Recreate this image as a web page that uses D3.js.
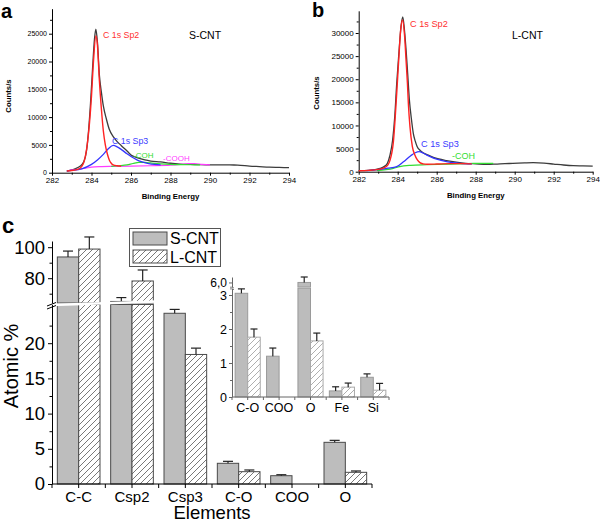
<!DOCTYPE html>
<html><head><meta charset="utf-8">
<script src="https://cdn.jsdelivr.net/npm/d3@7"></script>
<style>body{margin:0;background:#fff} svg{display:block} text{font-family:"Liberation Sans",Arial,sans-serif}</style>
</head><body><svg id="c" width="600" height="523"></svg>
<script>
// ---------- Data: panel a (S-CNT XPS C1s) [binding energy, counts/s] ----------
const sTotal = [[282.75,300],[283.0,500],[283.2,750],[283.4,1100],[283.6,1900],[283.75,4000],[283.85,7500],[283.95,12500],[284.05,18500],[284.15,24000],[284.22,25800],[284.3,23500],[284.4,17500],[284.5,14500],[284.6,12000],[284.75,9700],[284.9,7800],[285.1,6500],[285.3,5600],[285.5,4900],[285.8,3900],[286.0,3200],[286.3,2700],[286.7,2300],[287.0,2100],[287.5,1950],[288.0,1700],[288.5,1560],[289.0,1500],[289.5,1450],[290.0,1420],[290.5,1400],[291.0,1390],[291.4,1380],[292.0,1200],[292.5,1100],[293.0,1000],[293.5,950],[294.0,900]];
const sSp2 = [[282.75,300],[283.0,400],[283.3,600],[283.5,1100],[283.65,2300],[283.8,5500],[283.9,9000],[284.0,13800],[284.1,20000],[284.22,24600],[284.3,23000],[284.4,16500],[284.5,11500],[284.6,7500],[284.7,5000],[284.8,3400],[284.9,2300],[285.0,1700],[285.1,1400],[285.3,1250],[285.5,1200]];
const sSp3 = [[282.75,300],[283.0,400],[283.5,700],[284.0,1500],[284.3,2300],[284.6,3300],[284.85,4300],[285.1,4900],[285.3,4650],[285.5,4200],[285.8,3400],[286.0,2900],[286.3,2300],[286.6,1900],[286.9,1650],[287.2,1500],[287.5,1400]];
const sCOH = [[285.0,1150],[285.4,1250],[285.8,1400],[286.1,1650],[286.4,1850],[286.7,1850],[287.0,1750],[287.5,1600],[288.0,1500],[288.5,1450],[289.0,1430],[289.5,1400]];
const sCOOH = [[282.9,450],[283.3,600],[283.7,800],[284.0,1000],[284.5,1100],[285.0,1150],[286.0,1200],[287.0,1250],[288.0,1350],[288.5,1480],[288.9,1620],[289.2,1620],[289.6,1500],[290.0,1400]];

// ---------- Data: panel b (L-CNT XPS C1s) ----------
const lTotal = [[282.0,220],[282.5,300],[283.1,735],[283.3,1100],[283.47,1800],[283.6,3500],[283.74,6860],[283.85,12000],[283.95,19100],[284.05,25000],[284.17,31400],[284.26,33500],[284.35,30500],[284.43,26300],[284.5,22000],[284.6,15500],[284.7,11500],[284.8,8300],[284.9,6600],[285.0,5400],[285.15,4600],[285.3,4100],[285.5,3700],[285.83,3100],[286.1,2750],[286.5,2400],[287.0,2050],[287.5,1800],[288.0,1700],[288.56,1600],[289.0,1650],[289.5,1750],[289.9,1800],[290.5,1900],[290.95,1950],[291.5,1850],[292.0,1650],[292.5,1450],[293.0,1300],[293.5,1250],[294.0,1200]];
const lSp2 = [[282.0,200],[282.5,280],[283.0,500],[283.3,850],[283.5,1500],[283.6,2400],[283.78,6500],[283.95,17000],[284.05,24000],[284.15,30500],[284.25,32800],[284.35,29500],[284.43,24000],[284.5,19000],[284.55,14500],[284.63,9700],[284.75,5500],[284.88,3600],[285.0,2600],[285.14,1950],[285.3,1700],[285.5,1600],[286.0,1650],[286.7,1750],[287.3,1750],[287.8,1700]];
const lSp3 = [[282.4,220],[283.1,500],[283.5,750],[283.95,1100],[284.3,2160],[284.67,3460],[284.9,4100],[285.1,4330],[285.3,4050],[285.5,3600],[285.75,3100],[286.0,2700],[286.5,2160],[287.2,1800],[287.8,1700]];
const lCOH = [[282.92,220],[283.4,450],[283.78,735],[284.1,1100],[284.67,1370],[285.5,1500],[286.7,1650],[287.9,1780],[288.9,1800]];

const energyTicks = [282,284,286,288,290,292,294];
const energyMinor = [283,285,287,289,291,293];
const countTicksA = [0,5000,10000,15000,20000,25000];
const countMinorA = [2500,7500,12500,17500,22500,27500];
const countTicksB = [0,5000,10000,15000,20000,25000,30000];
const countMinorB = [2500,7500,12500,17500,22500,27500,32500];

// ---------- Data: panel c (atomic %) ----------
const categories = ["C-C","Csp2","Csp3","C-O","COO","O"];
const series = ["S-CNT","L-CNT"];
const sValues = [93.7, 65.0, 24.25, 2.94, 1.18, 5.92];
const sErrors = [3.8, 2.5, 0.55, 0.28, 0.14, 0.28];
const lValues = [98.8, 78.2, 18.4, 1.75, null, 1.66];
const lErrors = [7.8, 7.1, 0.9, 0.24, null, 0.19];
const lowTicks = [0,5,10,15,20];
const lowMinor = [2.5,7.5,12.5,17.5,22.5];
const highTicks = [80,100];
const highMinor = [70,90];

const insetCategories = ["C-O","COO","O","Fe","Si"];
const insetS = [3.05, 1.2, 6.0, 0.18, 0.58];
const insetSErr = [0.13, 0.24, 0.3, 0.12, 0.1];
const insetL = [1.76, null, 1.65, 0.29, 0.2];
const insetLErr = [0.24, null, 0.23, 0.12, 0.2];
const insetTicks = [0,1,2,3];
const insetMinor = [0.5,1.5,2.5];

// ---------- Drawing ----------
const svg = d3.select('#c');
svg.append('rect').attr('width',600).attr('height',523).attr('fill','#fff');
const defs = svg.append('defs');
function hatch(id, color, w){
  const p = defs.append('pattern').attr('id',id).attr('patternUnits','userSpaceOnUse').attr('width',6).attr('height',6);
  p.append('rect').attr('width',6).attr('height',6).attr('fill','#fff');
  p.append('path').attr('d','M0,6 L6,0 M-1,1 L1,-1 M5,7 L7,5').attr('stroke',color).attr('stroke-width',w);
}
hatch('hatchMain','#6a6a6a',0.9);
hatch('hatchInset','#9a9a9a',0.8);

function styleAxis(g, fs){
  g.selectAll('path.domain').attr('stroke','#000').attr('stroke-width',1);
  g.selectAll('.tick line').attr('stroke','#000');
  g.selectAll('text').attr('font-family','"Liberation Sans",Arial,sans-serif').attr('font-size',fs).attr('fill','#000');
}

function spectrum(cfg){
  const g = svg.append('g');
  const x = d3.scaleLinear().domain([282,294]).range([cfg.x0,cfg.x1]);
  const y = d3.scaleLinear().domain([0,cfg.refVal]).range([cfg.y0,cfg.refY]);
  const yTop = y(cfg.ymax);
  const gx = g.append('g').attr('transform',`translate(0,${cfg.y0})`)
    .call(d3.axisBottom(x).tickValues(energyTicks).tickSize(3).tickSizeOuter(0).tickPadding(2).tickFormat(d3.format('d')));
  styleAxis(gx, cfg.fsx);
  const gxm = g.append('g').attr('transform',`translate(0,${cfg.y0})`)
    .call(d3.axisBottom(x).tickValues(energyMinor).tickSize(2).tickFormat(''));
  gxm.select('path.domain').remove(); styleAxis(gxm, cfg.fsx);
  const yy = y.copy().domain([0,cfg.ymax]).range([cfg.y0,yTop]);
  const gy = g.append('g').attr('transform',`translate(${cfg.x0},0)`)
    .call(d3.axisLeft(yy).tickValues(cfg.ticks).tickSize(3).tickSizeOuter(0).tickPadding(2).tickFormat(d3.format('d')));
  styleAxis(gy, cfg.fsy);
  const gym = g.append('g').attr('transform',`translate(${cfg.x0},0)`)
    .call(d3.axisLeft(yy).tickValues(cfg.minor).tickSize(2).tickFormat(''));
  gym.select('path.domain').remove(); styleAxis(gym, cfg.fsy);

  const line = d3.line().x(d=>x(d[0])).y(d=>y(d[1])).curve(d3.curveMonotoneX);
  cfg.lines.forEach(l=>{
    g.append('path').attr('d',line(l.data)).attr('fill','none').attr('stroke',l.color).attr('stroke-width',l.w).attr('stroke-linejoin','round');
  });
  cfg.labels.forEach(t=>{
    g.append('text').attr('x',t.x).attr('y',t.y).attr('fill',t.color).attr('font-size',t.fs).text(t.text);
  });
  g.append('text').attr('x',(cfg.x0+cfg.x1)/2).attr('y',cfg.y0+26).attr('text-anchor','middle')
    .attr('font-weight','bold').attr('font-size',7.8).text('Binding Energy');
  g.append('text').attr('transform',`translate(${cfg.ylabX},${cfg.ylabY}) rotate(-90)`).attr('text-anchor','middle')
    .attr('font-weight','bold').attr('font-size',7.8).text('Counts/s');
  g.append('text').attr('x',cfg.letterX).attr('y',cfg.letterY).attr('font-weight','bold').attr('font-size',20).text(cfg.letter);
}

spectrum({x0:52,x1:289,y0:172.7,refVal:25000,refY:33.7,ymax:29500,ticks:countTicksA,minor:countMinorA,fsx:8,fsy:7,
  ylabX:11,ylabY:96,letter:'a',letterX:1,letterY:18,
  lines:[{data:sTotal,color:'#3c3c3c',w:1.3},{data:sCOOH,color:'#ff3cff',w:1.2},{data:sCOH,color:'#33dd33',w:1.2},
         {data:sSp3,color:'#3434ff',w:1.3},{data:sSp2,color:'#ff2222',w:1.4}],
  labels:[{x:103,y:38,text:'C 1s Sp2',color:'#ff3030',fs:8.8},{x:112,y:144,text:'C 1s Sp3',color:'#3c3cff',fs:8.8},
          {x:133,y:157.5,text:'-COH',color:'#33dd33',fs:8},{x:163,y:161,text:'-COOH',color:'#ff40ff',fs:8},
          {x:189,y:39,text:'S-CNT',color:'#000',fs:10.5}]
});
spectrum({x0:358.7,x1:592.7,y0:171.7,refVal:30000,refY:33,ymax:34800,ticks:countTicksB,minor:countMinorB,fsx:8,fsy:8,
  ylabX:319,ylabY:93,letter:'b',letterX:312,letterY:17,
  lines:[{data:lTotal,color:'#3c3c3c',w:1.3},{data:lCOH,color:'#33dd33',w:1.2},
         {data:lSp3,color:'#3434ff',w:1.3},{data:lSp2,color:'#ff2222',w:1.4}],
  labels:[{x:410,y:27,text:'C 1s Sp2',color:'#ff3030',fs:9.2},{x:421,y:147,text:'C 1s Sp3',color:'#3c3cff',fs:9.2},
          {x:452,y:159,text:'-COH',color:'#33dd33',fs:9},
          {x:512,y:39,text:'L-CNT',color:'#000',fs:10.5}]
});

// ---------- Panel c main ----------
const gc = svg.append('g');
const x0 = d3.scaleBand().domain(categories).range([52,372]).paddingInner(0.2).paddingOuter(0.1);
const x1 = d3.scaleBand().domain(series).range([0,x0.bandwidth()]);
const LOWMAX = 25.5, HIGHMIN = 64;
const yLow = d3.scaleLinear().domain([0,LOWMAX]).range([484,484-LOWMAX*7.04]);
const yHigh = d3.scaleLinear().domain([HIGHMIN,104]).range([303,241]);
const yMain = v => v < 45 ? yLow(v) : yHigh(v);

function drawBar(g, xs, w, v, e, fill, stroke, sw, ylow, yhigh, lowMax, split, yf, cap){
  if(v==null) return;
  if(v < split){
    g.append('rect').attr('x',xs).attr('y',ylow(v)).attr('width',w).attr('height',ylow(0)-ylow(v))
      .attr('fill',fill).attr('stroke',stroke).attr('stroke-width',sw);
  } else {
    g.append('rect').attr('x',xs).attr('y',ylow(lowMax)).attr('width',w).attr('height',ylow(0)-ylow(lowMax))
      .attr('fill',fill).attr('stroke',stroke).attr('stroke-width',sw);
    g.append('rect').attr('x',xs).attr('y',yhigh(v)).attr('width',w).attr('height',yhigh.range()[0]-yhigh(v))
      .attr('fill',fill).attr('stroke',stroke).attr('stroke-width',sw);
  }
  if(e!=null){
    const cx = xs + w/2, yt = yf(v), ye = yf(v+e);
    g.append('line').attr('x1',cx).attr('x2',cx).attr('y1',yt).attr('y2',ye).attr('stroke','#222').attr('stroke-width',1.2);
    g.append('line').attr('x1',cx-cap).attr('x2',cx+cap).attr('y1',ye).attr('y2',ye).attr('stroke','#222').attr('stroke-width',1.2);
  }
}
categories.forEach((c,i)=>{
  drawBar(gc, x0(c)+x1('S-CNT'), x1.bandwidth(), sValues[i], sErrors[i], '#bdbdbd', '#4a4a4a', 1, yLow, yHigh, LOWMAX, 45, yMain, 5);
  drawBar(gc, x0(c)+x1('L-CNT'), x1.bandwidth(), lValues[i], lErrors[i], 'url(#hatchMain)', '#4a4a4a', 1, yLow, yHigh, LOWMAX, 45, yMain, 5);
});
gc.append('polygon').attr('points','44,306.5 165,302.5 165,300 44,304').attr('fill','#fff');

const gyl = gc.append('g').attr('transform','translate(52,0)')
  .call(d3.axisLeft(yLow).tickValues(lowTicks).tickSize(4).tickSizeOuter(0).tickPadding(3).tickFormat(d3.format('d')));
styleAxis(gyl, 18.5);
const gylm = gc.append('g').attr('transform','translate(52,0)').call(d3.axisLeft(yLow).tickValues(lowMinor).tickSize(2.5).tickFormat(''));
gylm.select('path.domain').remove(); styleAxis(gylm,18);
const gyh = gc.append('g').attr('transform','translate(52,0)')
  .call(d3.axisLeft(yHigh).tickValues(highTicks).tickSize(4).tickSizeOuter(0).tickPadding(3).tickFormat(d3.format('d')));
styleAxis(gyh, 18.5);
const gyhm = gc.append('g').attr('transform','translate(52,0)').call(d3.axisLeft(yHigh).tickValues(highMinor).tickSize(2.5).tickFormat(''));
gyhm.select('path.domain').remove(); styleAxis(gyhm,18);
gc.append('line').attr('x1',47).attr('y1',306).attr('x2',56).attr('y2',302.5).attr('stroke','#000');
gc.append('line').attr('x1',47).attr('y1',309).attr('x2',56).attr('y2',305.5).attr('stroke','#000');

const xTickPos = d3.range(0,13).map(k=>52+k*(320/12));
const gxa = gc.append('g');
gxa.append('line').attr('x1',52).attr('x2',372).attr('y1',484).attr('y2',484).attr('stroke','#000');
gxa.selectAll('line.t').data(xTickPos).enter().append('line').attr('class','t')
  .attr('x1',d=>d).attr('x2',d=>d).attr('y1',484).attr('y2',488).attr('stroke','#000');
gc.selectAll('text.cat').data(categories).enter().append('text').attr('class','cat')
  .attr('x',d=>x0(d)+x0.bandwidth()/2).attr('y',502).attr('text-anchor','middle').attr('font-size',15).text(d=>d);
gc.append('text').attr('x',212).attr('y',519).attr('text-anchor','middle').attr('font-size',18.5).text('Elements');
gc.append('text').attr('transform','translate(18,366) rotate(-90)').attr('text-anchor','middle').attr('font-size',20).text('Atomic %');
svg.append('text').attr('x',2).attr('y',233).attr('font-weight','bold').attr('font-size',22).text('c');

const lg = gc.append('g');
lg.append('rect').attr('x',129.5).attr('y',228.5).attr('width',91).attr('height',38).attr('fill','#fff').attr('stroke','#555');
lg.append('rect').attr('x',133).attr('y',232).attr('width',34).attr('height',13).attr('fill','#bdbdbd').attr('stroke','#4a4a4a');
lg.append('rect').attr('x',133).attr('y',250).attr('width',34).attr('height',13).attr('fill','url(#hatchMain)').attr('stroke','#4a4a4a');
lg.append('text').attr('x',170).attr('y',244).attr('font-size',16).text(series[0]);
lg.append('text').attr('x',170).attr('y',263).attr('font-size',16).text(series[1]);

// ---------- Inset ----------
const gi = svg.append('g');
const ix0 = d3.scaleBand().domain(insetCategories).range([232,389]).paddingInner(0.2).paddingOuter(0.1);
const ix1 = d3.scaleBand().domain(series).range([0,ix0.bandwidth()]);
const ILOW = 3.2;
const iyLow = d3.scaleLinear().domain([0,ILOW]).range([397,397-ILOW*34]);
const iyHigh = d3.scaleLinear().domain([5.75,6.3]).range([287,277]);
const iy = v => v < 4.5 ? iyLow(v) : iyHigh(v);
insetCategories.forEach((c,i)=>{
  drawBar(gi, ix0(c)+ix1('S-CNT'), ix1.bandwidth(), insetS[i], insetSErr[i], '#bcbcbc', '#9a9a9a', 1, iyLow, iyHigh, ILOW, 4.5, iy, 3.5);
  drawBar(gi, ix0(c)+ix1('L-CNT'), ix1.bandwidth(), insetL[i], insetLErr[i], 'url(#hatchInset)', '#aaaaaa', 1, iyLow, iyHigh, ILOW, 4.5, iy, 3.5);
});
const giy = gi.append('g').attr('transform','translate(232,0)')
  .call(d3.axisLeft(iyLow).tickValues(insetTicks).tickSize(3).tickSizeOuter(0).tickPadding(2).tickFormat(d3.format('d')));
styleAxis(giy, 12.5); giy.selectAll('path.domain').attr('stroke','#666'); giy.selectAll('.tick line').attr('stroke','#666');
const giym = gi.append('g').attr('transform','translate(232,0)').call(d3.axisLeft(iyLow).tickValues(insetMinor).tickSize(2).tickFormat(''));
giym.select('path.domain').remove(); giym.selectAll('.tick line').attr('stroke','#666');
const giyh = gi.append('g').attr('transform','translate(232,0)')
  .call(d3.axisLeft(iyHigh).tickValues([6.0]).tickSize(3).tickSizeOuter(0).tickPadding(2).tickFormat(d=>'6,0'));
styleAxis(giyh, 12); giyh.selectAll('path.domain').attr('stroke','#666'); giyh.selectAll('.tick line').attr('stroke','#666');
gi.append('path').attr('d','M230,287.5 q1,-1.2 2,0 t2,0 M230,289.2 q1,-1.2 2,0 t2,0').attr('fill','none').attr('stroke','#666').attr('stroke-width',0.8);
const ixTicks = d3.range(0,11).map(k=>232+k*(157/10));
gi.append('line').attr('x1',232).attr('x2',389).attr('y1',397).attr('y2',397).attr('stroke','#666');
gi.selectAll('line.t').data(ixTicks).enter().append('line').attr('class','t')
  .attr('x1',d=>d).attr('x2',d=>d).attr('y1',397).attr('y2',400).attr('stroke','#666');
gi.selectAll('text.cat').data(insetCategories).enter().append('text').attr('class','cat')
  .attr('x',d=>ix0(d)+ix0.bandwidth()/2).attr('y',412).attr('text-anchor','middle').attr('font-size',12.5).text(d=>d);
</script></body></html>
